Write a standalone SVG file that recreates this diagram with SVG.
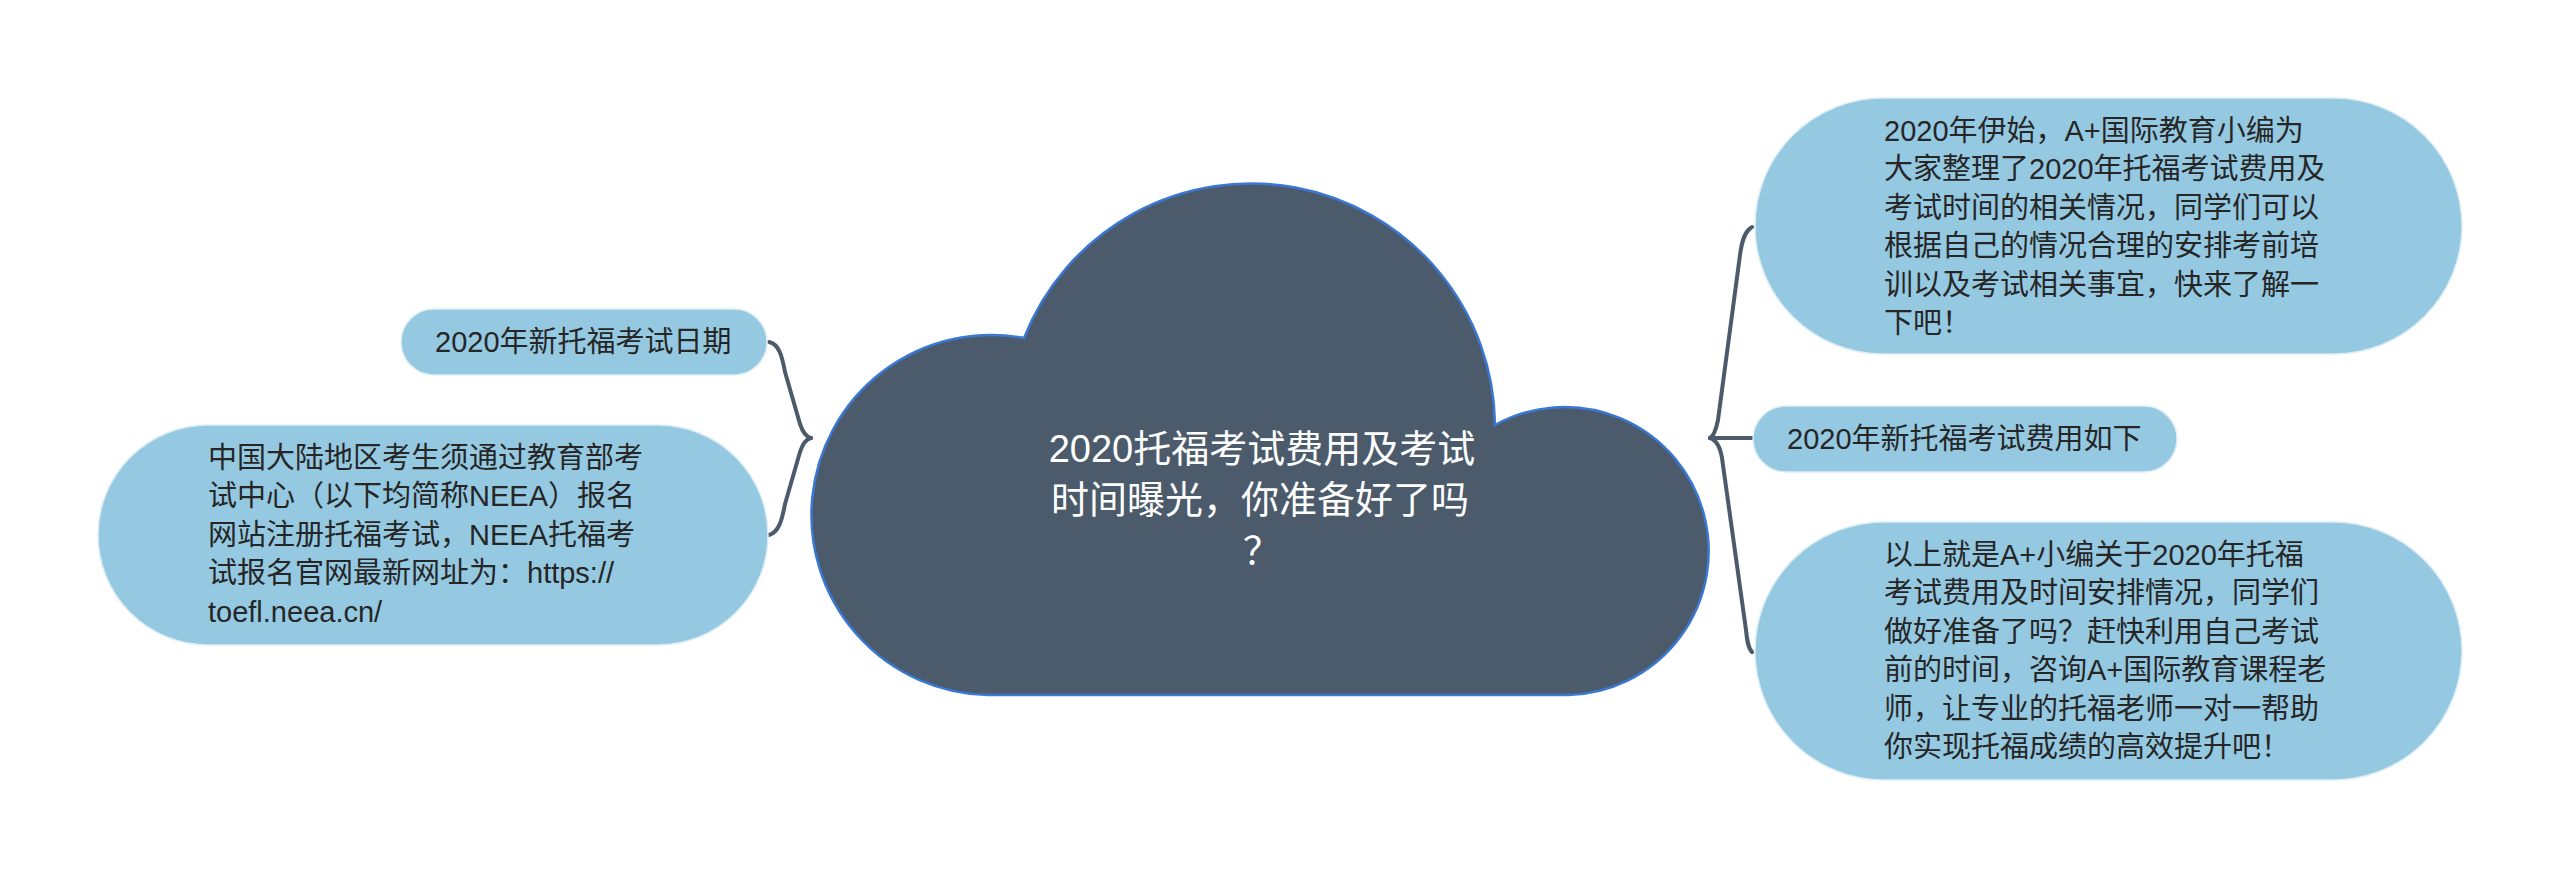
<svg xmlns="http://www.w3.org/2000/svg" width="2560" height="878" viewBox="0 0 2560 878">
  <style>
    .node { fill: #95c9e2; stroke: #dcedf5; stroke-width: 1.5; }
    .t { font-family: "Liberation Sans", "Noto Sans CJK SC", sans-serif; font-size: 29px; fill: #262626; }
    .ct { font-family: "Liberation Sans", "Noto Sans CJK SC", sans-serif; font-size: 38px; fill: #ffffff; text-anchor: middle; }
    .conn { fill: none; stroke: #4b5b6b; stroke-width: 4; stroke-linecap: round; stroke-linejoin: round; }
  </style>
  <rect x="0" y="0" width="2560" height="878" fill="#ffffff"/>

  <g id="connectors">
    <path class="conn" d="M769,342 C779,344 782,356 785,372 L800,424 C803,433 806,437 811,438"/>
    <path class="conn" d="M769,535 C779,532 782,520 785,504 L800,452 C803,443 806,439 811,438"/>
    <path class="conn" d="M1752,227 C1745,231 1742,240 1740,255 L1718,420 C1716,430 1714,436 1710,438"/>
    <path class="conn" d="M1710,438 L1752,438"/>
    <path class="conn" d="M1752,652 C1748,648 1747,640 1746,630 L1722,458 C1720,446 1716,440 1710,438"/>
  </g>

  <g id="center">
    <path d="M988,695 A180,180 0 1 1 1024,338 A244,244 0 0 1 1495,425 A144,144 0 1 1 1568,695 Z" fill="#4b5b6b" stroke="#3a78d4" stroke-width="2.5"/>
    <text class="ct" x="1262" y="462">2020托福考试费用及考试</text>
    <text class="ct" x="1260" y="513">时间曝光，你准备好了吗</text>
    <text class="ct" x="1262" y="564">？</text>
  </g>

  <g id="left1">
    <rect class="node" x="401" y="309" width="366" height="66" rx="33"/>
    <text class="t" x="435" y="352">2020年新托福考试日期</text>
  </g>

  <g id="left2">
    <rect class="node" x="98" y="425" width="670" height="220" rx="110"/>
    <text class="t" x="208" y="467.5">中国大陆地区考生须通过教育部考</text>
    <text class="t" x="208" y="506">试中心（以下均简称NEEA）报名</text>
    <text class="t" x="208" y="544.5">网站注册托福考试，NEEA托福考</text>
    <text class="t" x="208" y="583">试报名官网最新网址为：https://</text>
    <text class="t" x="208" y="622">toefl.neea.cn/</text>
  </g>

  <g id="right1">
    <rect class="node" x="1755" y="98" width="707" height="256" rx="128"/>
    <text class="t" x="1884" y="141">2020年伊始，A+国际教育小编为</text>
    <text class="t" x="1884" y="179.4">大家整理了2020年托福考试费用及</text>
    <text class="t" x="1884" y="217.8">考试时间的相关情况，同学们可以</text>
    <text class="t" x="1884" y="256.2">根据自己的情况合理的安排考前培</text>
    <text class="t" x="1884" y="294.6">训以及考试相关事宜，快来了解一</text>
    <text class="t" x="1884" y="333">下吧！</text>
  </g>

  <g id="right2">
    <rect class="node" x="1753" y="406" width="424" height="66" rx="33"/>
    <text class="t" x="1787" y="449">2020年新托福考试费用如下</text>
  </g>

  <g id="right3">
    <rect class="node" x="1755" y="522" width="707" height="258" rx="129"/>
    <text class="t" x="1884" y="565">以上就是A+小编关于2020年托福</text>
    <text class="t" x="1884" y="603.4">考试费用及时间安排情况，同学们</text>
    <text class="t" x="1884" y="641.8">做好准备了吗？赶快利用自己考试</text>
    <text class="t" x="1884" y="680.2">前的时间，咨询A+国际教育课程老</text>
    <text class="t" x="1884" y="718.6">师，让专业的托福老师一对一帮助</text>
    <text class="t" x="1884" y="757">你实现托福成绩的高效提升吧！</text>
  </g>
</svg>
